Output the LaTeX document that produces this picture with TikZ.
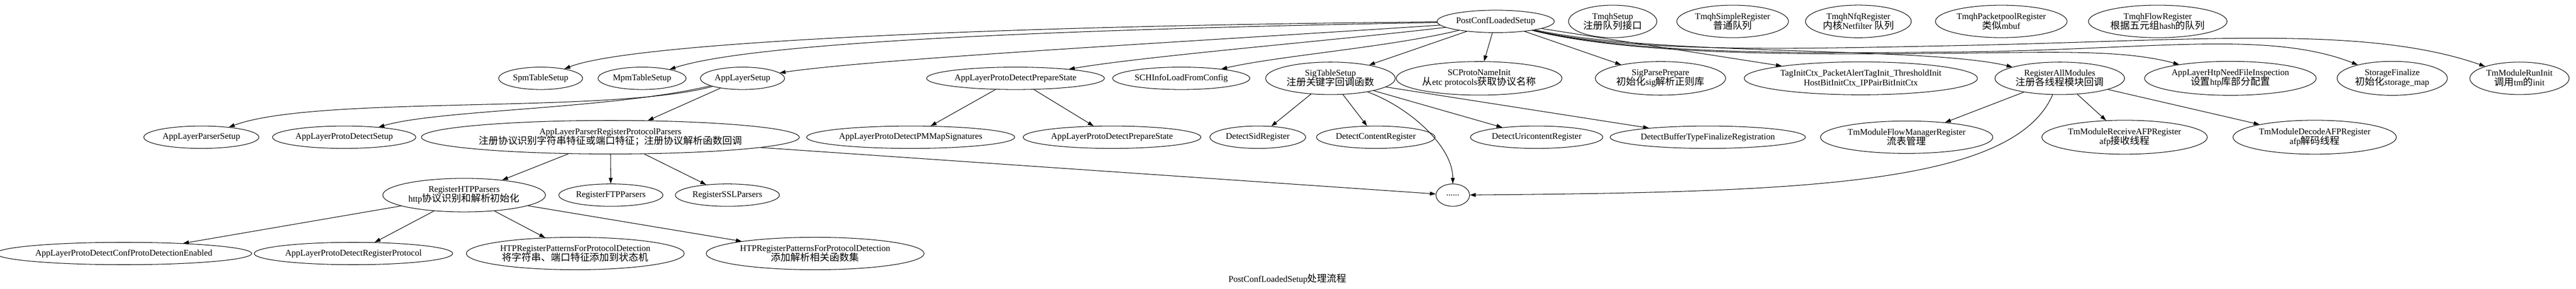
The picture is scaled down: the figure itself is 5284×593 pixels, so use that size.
\documentclass[tikz,border=0pt]{standalone}
\usepackage{fontspec}
\setmainfont{Liberation Serif}
\newfontfamily\zhfont{Noto Sans CJK SC}
\usetikzlibrary{shapes.geometric,arrows.meta}
\newcommand{\zh}[1]{{\zhfont\fontsize{20}{20}\selectfont #1}}
\newcommand{\ndfont}{\fontsize{18}{20}\selectfont\lineskiplimit=-50pt\relax}
\begin{document}
\begin{tikzpicture}[x=1pt,y=-1pt,
  nd/.style={ellipse,draw,line width=1.1pt,minimum height=46pt,minimum width=69pt,
    inner xsep=4pt,inner ysep=6.5pt,align=center,font=\ndfont},
  edge/.style={line width=1.1pt,-{Triangle[length=12pt,width=8pt]}},
  lbl/.style={font=\ndfont}]
\useasboundingbox (0,0) rectangle (5284,593);
% top row
\node[nd] (post) at (3068,44) {PostConfLoadedSetup};
\node[nd] (tmqh) at (3308,44) {TmqhSetup\\\zh{注册队列接口}};
\node[nd] (tsimple) at (3554,44) {TmqhSimpleRegister\\\zh{普通队列}};
\node[nd] (tnfq) at (3812,44) {TmqhNfqRegister\\\zh{内核}Netfilter \zh{队列}};
\node[nd] (tpool) at (4105,44) {TmqhPacketpoolRegister\\\zh{类似}mbuf};
\node[nd] (tflow) at (4426,44) {TmqhFlowRegister\\\zh{根据五元组}hash\zh{的队列}};
% row 1
\node[nd] (spm) at (1109,161) {SpmTableSetup};
\node[nd] (mpm) at (1317,161) {MpmTableSetup};
\node[nd] (als) at (1523,161) {AppLayerSetup};
\node[nd] (apdps) at (2083,161) {AppLayerProtoDetectPrepareState};
\node[nd] (sch) at (2423,161) {SCHInfoLoadFromConfig};
\node[nd] (sig) at (2729,161) {SigTableSetup\\\zh{注册关键字回调函数}};
\node[nd] (scp) at (3034,161) {SCProtoNameInit\\\zh{从}etc protocols\zh{获取协议名称}};
\node[nd] (spp) at (3406,161) {SigParsePrepare\\\zh{初始化}sig\zh{解析正则库}};
\node[nd] (tag) at (3817,161) {TagInitCtx\_PacketAlertTagInit\_ThresholdInit\\HostBitInitCtx\_IPPairBitInitCtx};
\node[nd] (ram) at (4225,161) {RegisterAllModules\\\zh{注册各线程模块回调}};
\node[nd] (htp) at (4575,161) {AppLayerHtpNeedFileInspection\\\zh{设置}htp\zh{库部分配置}};
\node[nd] (stor) at (4907,161) {StorageFinalize\\\zh{初始化}storage\_map};
\node[nd] (tmr) at (5168,161) {TmModuleRunInit\\\zh{调用}tm\zh{的}init};
% row 2
\node[nd] (aps) at (413,282) {AppLayerParserSetup};
\node[nd] (apds) at (706,282) {AppLayerProtoDetectSetup};
\node[nd] (aprpp) at (1252,282) {AppLayerParserRegisterProtocolParsers\\\zh{注册协议识别字符串特征或端口特征；注册协议解析函数回调}};
\node[nd] (pmm) at (1868,282) {AppLayerProtoDetectPMMapSignatures};
\node[nd] (apdps2) at (2281,282) {AppLayerProtoDetectPrepareState};
\node[nd] (dsid) at (2580,282) {DetectSidRegister};
\node[nd] (dcont) at (2822,282) {DetectContentRegister};
\node[nd] (duri) at (3152,282) {DetectUricontentRegister};
\node[nd] (dbuf) at (3503,282) {DetectBufferTypeFinalizeRegistration};
\node[nd] (tfm) at (3911,282) {TmModuleFlowManagerRegister\\\zh{流表管理}};
\node[nd] (trecv) at (4358,282) {TmModuleReceiveAFPRegister\\afp\zh{接收线程}};
\node[nd] (tdec) at (4748,282) {TmModuleDecodeAFPRegister\\afp\zh{解码线程}};
% row 3
\node[nd] (rhtp) at (952,401) {RegisterHTPParsers\\http\zh{协议识别和解析初始化}};
\node[nd] (rftp) at (1253,401) {RegisterFTPParsers};
\node[nd] (rssl) at (1492,401) {RegisterSSLParsers};
\node[nd] (dots) at (2980,401) {......};
% row 4
\node[nd] (cpde) at (254,521) {AppLayerProtoDetectConfProtoDetectionEnabled};
\node[nd] (rp) at (725,521) {AppLayerProtoDetectRegisterProtocol};
\node[nd] (hp1) at (1180,521) {HTPRegisterPatternsForProtocolDetection\\\zh{将字符串、端口特征添加到状态机}};
\node[nd] (hp2) at (1672,521) {HTPRegisterPatternsForProtocolDetection\\\zh{添加解析相关函数集}};
% caption
\node[lbl] (title) at (2641,573) {PostConfLoadedSetup\zh{处理流程}};
% edges from PostConfLoadedSetup
\draw[edge] (post) .. controls (2100,52) and (1300,85) .. (spm);
\draw[edge] (post) .. controls (2200,60) and (1550,85) .. (mpm);
\draw[edge] (post) .. controls (2500,82) and (1800,120) .. (als);
\draw[edge] (post) .. controls (2750,82) and (2350,115) .. (apdps);
\draw[edge] (post) .. controls (2850,97) and (2620,115) .. (sch);
\draw[edge] (post) -- (sig);
\draw[edge] (post) -- (scp);
\draw[edge] (post) -- (spp);
\draw[edge] (post) -- (tag);
\draw[edge] (post) .. controls (3400,116) and (3950,95) .. (ram);
\draw[edge] (post) .. controls (3350,114) and (3700,112) .. (3950,110) .. controls (4200,108) and (4350,100) .. (htp);
\draw[edge] (post) .. controls (3350,112) and (3700,110) .. (4000,107) .. controls (4400,104) and (4650,60) .. (stor);
\draw[edge] (post) .. controls (3350,110) and (3700,100) .. (4000,94) .. controls (4500,84) and (4850,50) .. (tmr);
% AppLayerSetup
\draw[edge] (als) .. controls (1250,235) and (650,195) .. (aps);
\draw[edge] (als) .. controls (1250,225) and (900,225) .. (apds);
\draw[edge] (als) -- (aprpp);
% AppLayerProtoDetectPrepareState
\draw[edge] (apdps) -- (pmm);
\draw[edge] (apdps) -- (apdps2);
% SigTableSetup
\draw[edge] (sig) -- (dsid);
\draw[edge] (sig) -- (dcont);
\draw[edge] (sig) .. controls (2890,220) and (2980,300) .. (dots);
\draw[edge] (sig) -- (duri);
\draw[edge] (sig) -- (dbuf);
% AppLayerParserRegisterProtocolParsers
\draw[edge] (aprpp) -- (rhtp);
\draw[edge] (aprpp) -- (rftp);
\draw[edge] (aprpp) -- (rssl);
\draw[edge] (aprpp) -- (dots);
% RegisterAllModules
\draw[edge] (ram) -- (tfm);
\draw[edge] (ram) .. controls (4130,380) and (3700,395) .. (dots);
\draw[edge] (ram) -- (trecv);
\draw[edge] (ram) -- (tdec);
% RegisterHTPParsers
\draw[edge] (rhtp) -- (cpde);
\draw[edge] (rhtp) -- (rp);
\draw[edge] (rhtp) -- (hp1);
\draw[edge] (rhtp) -- (hp2);
\end{tikzpicture}
\end{document}
